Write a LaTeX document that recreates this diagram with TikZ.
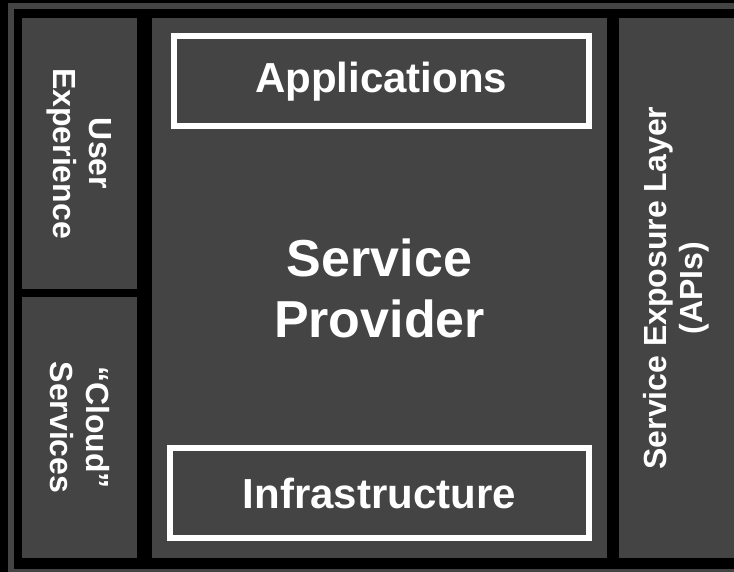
\documentclass[tikz,border=0pt]{standalone}
\usepackage{fontspec}
\setmainfont{Liberation Sans}
\definecolor{panelgray}{RGB}{68,68,68}

\begin{document}
\begin{tikzpicture}[x=1pt,y=-1pt,
   panel/.style={fill=panelgray,inner sep=0pt,outer sep=0pt},
   layer/.style={draw=white,line width=6pt,inner sep=0pt},
   small/.style={text=white,align=center,inner sep=0pt,font=\bfseries\fontsize{32}{36}\selectfont},
   mid/.style={text=white,align=center,inner sep=0pt,font=\bfseries\fontsize{42}{48}\selectfont},
   big/.style={text=white,align=center,inner sep=0pt,font=\bfseries\fontsize{52}{61}\selectfont}]
   \clip (0,0) rectangle (734,572);
   \fill[black] (0,0) rectangle (734,572);
   \draw[panelgray,line width=6pt] (11,6) rectangle (745,572);

   % columns
   \node[panel,minimum width=115,minimum height=271] (ux) at (79.5,153.5) {};
   \node[panel,minimum width=115,minimum height=261] (cloud) at (79.5,427.5) {};
   \node[panel,minimum width=455,minimum height=540] (sp) at (379.5,288) {};
   \node[panel,minimum width=115,minimum height=540] (api) at (676.5,288) {};

   % layers inside the provider
   \node[layer,minimum width=415.5,minimum height=89.5] (apps) at (381.25,81.25) {};
   \node[layer,minimum width=419.5,minimum height=90] (infra) at (379.25,493) {};

   % texts
   \node[small,rotate=-90] (uxtext) at (ux) {User\\Experience};
   \node[small,rotate=-90] (cloudtext) at (cloud) {``Cloud''\\Services};
   \node[small,rotate=90] (apitext) at (api) {Service Exposure Layer\\(APIs)};
   \node[big] (sptext) at (sp) {Service\\Provider};
   \node[mid] (appstext) at (apps) {Applications};
   \node[mid] (infratext) at (infra) {Infrastructure};
\end{tikzpicture}
\end{document}
